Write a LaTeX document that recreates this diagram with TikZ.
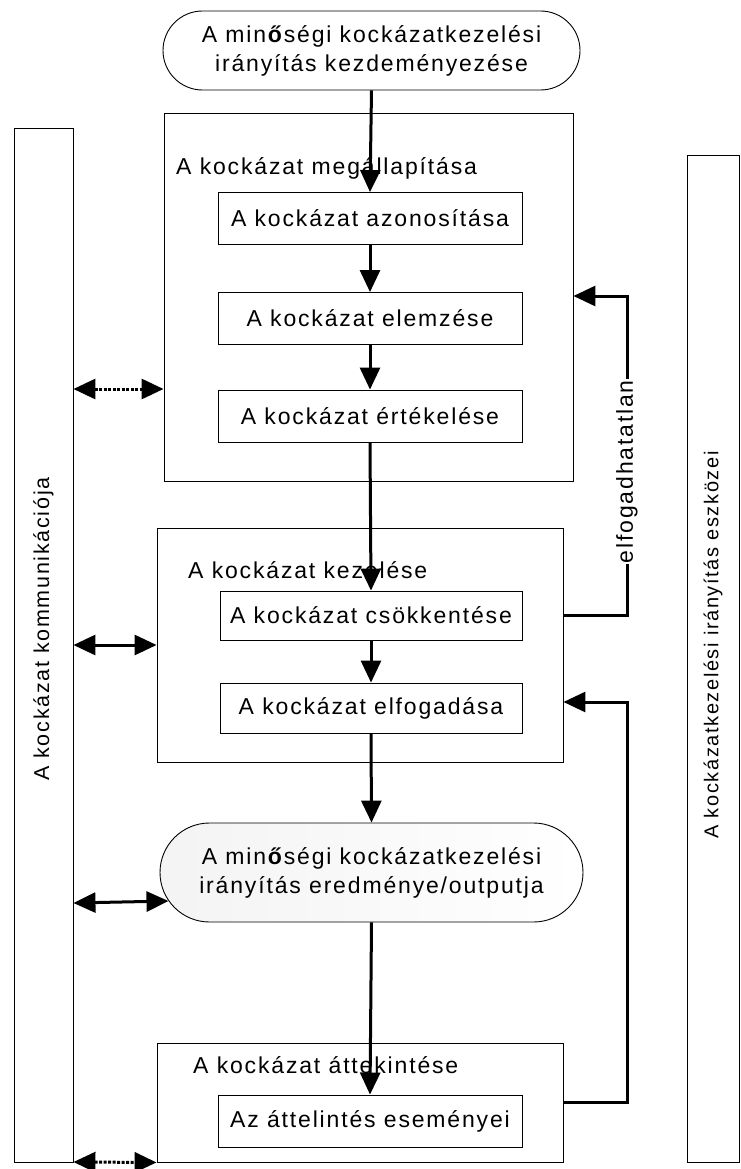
\documentclass[tikz,border=0pt]{standalone}
\usepackage{fontspec}
\setmainfont{Liberation Sans}[LetterSpace=8]
\usetikzlibrary{arrows.meta,shapes.misc}
\tikzset{
  box/.style={draw,line width=0.9pt,minimum width=304pt,minimum height=52pt,inner sep=0pt},
  frame/.style={draw,line width=0.9pt,inner sep=0pt},
  term/.style={draw,line width=0.9pt,rounded rectangle,inner sep=0pt,align=center},
  flow/.style={line width=3pt,-{Triangle[length=22pt,width=20pt]}},
  both/.style={line width=3pt,{Triangle[length=22pt,width=20pt]}-{Triangle[length=22pt,width=20pt]}},
  dots/.style={both,dash pattern=on 3pt off 1.5pt},
  txt/.style={font=\fontsize{23}{29}\selectfont}
}
\begin{document}
\begin{tikzpicture}[x=1pt,y=-1pt,txt]
            \useasboundingbox (0,0) rectangle (740,1169);
            \node[frame,minimum width=409pt,minimum height=368pt] (megall) at (368.5,297) {};
            \node[frame,minimum width=406pt,minimum height=234pt] (kezel) at (360,645) {};
            \node[frame,minimum width=406pt,minimum height=119pt] (attek) at (360,1102.5) {};
            \node[frame,minimum width=59pt,minimum height=1034pt] (komm) at (43.5,645) {};
            \node[frame,minimum width=52pt,minimum height=1007pt] (eszk) at (713,658.5) {};
            \node[rotate=90,font=\fontsize{21.5}{25}\selectfont] (kommcim) at (43.5,629) {A kockázat kommunikációja};
            \node[rotate=90,font=\fontsize{20}{24}\selectfont] (eszkcim) at (713,645) {A kockázatkezelési irányítás eszközei};
            \node[term,minimum width=417pt,minimum height=79pt] (kezd) at (371.5,50.5)
                {A min\textbf{ő}ségi kockázatkezelési\\irányítás kezdeményezése};
            \node[term,minimum width=423pt,minimum height=99pt,left color=gray!9,right color=white] (output) at (371.5,872.5)
                {A min\textbf{ő}ségi kockázatkezelési\\irányítás eredménye/outputja};
            \node[anchor=west,inner sep=0pt] (megallcim) at (176,168) {A kockázat megállapítása};
            \node[anchor=west,inner sep=0pt] (kezelcim) at (188,570) {A kockázat kezelése};
            \node[anchor=west,inner sep=0pt] (attekcim) at (193,1065) {A kockázat áttekintése};
            \node[box] (azon) at (370,218.5) {A kockázat azonosítása};
            \node[box] (elemz) at (370,318.5) {A kockázat elemzése};
            \node[box] (ertek) at (370,416) {A kockázat értékelése};
            \node[box,minimum width=302pt,minimum height=49pt] (csokk) at (371,615.5) {A kockázat csökkentése};
            \node[box,minimum width=302pt,minimum height=50pt] (elfog) at (371,708) {A kockázat elfogadása};
            \node[box] (esem) at (370,1121) {Az áttelintés eseményei};
            \draw[flow] (kezd.south) -- (azon.north);
            \draw[flow] (azon.south) -- (elemz.north);
            \draw[flow] (elemz.south) -- (ertek.north);
            \draw[flow] (ertek.south) -- (csokk.north);
            \draw[flow] (csokk.south) -- (elfog.north);
            \draw[flow] (elfog.south) -- (output.north);
            \draw[flow] (output.south) -- (esem.north);
            \draw[flow,line join=miter] (kezel.east |- csokk) -- (627,615.5)
                -- node[pos=0.45,rotate=90,fill=white,inner sep=1pt] {elfogadhatatlan} (627,296) -- (megall.east |- 0,296);
            \draw[flow,line join=miter] (attek.east) -- (627,1102.5) -- (627,702) -- (kezel.east |- 0,702);
            \draw[dots] (komm.east |- 0,389) -- (megall.west |- 0,389);
            \draw[both] (komm.east |- 0,645) -- (kezel.west);
            \draw[both] (komm.east |- 0,903) -- (output.188);
            \draw[dots] (komm.east |- 0,1162) -- (attek.south west);
        \end{tikzpicture}
\end{document}
